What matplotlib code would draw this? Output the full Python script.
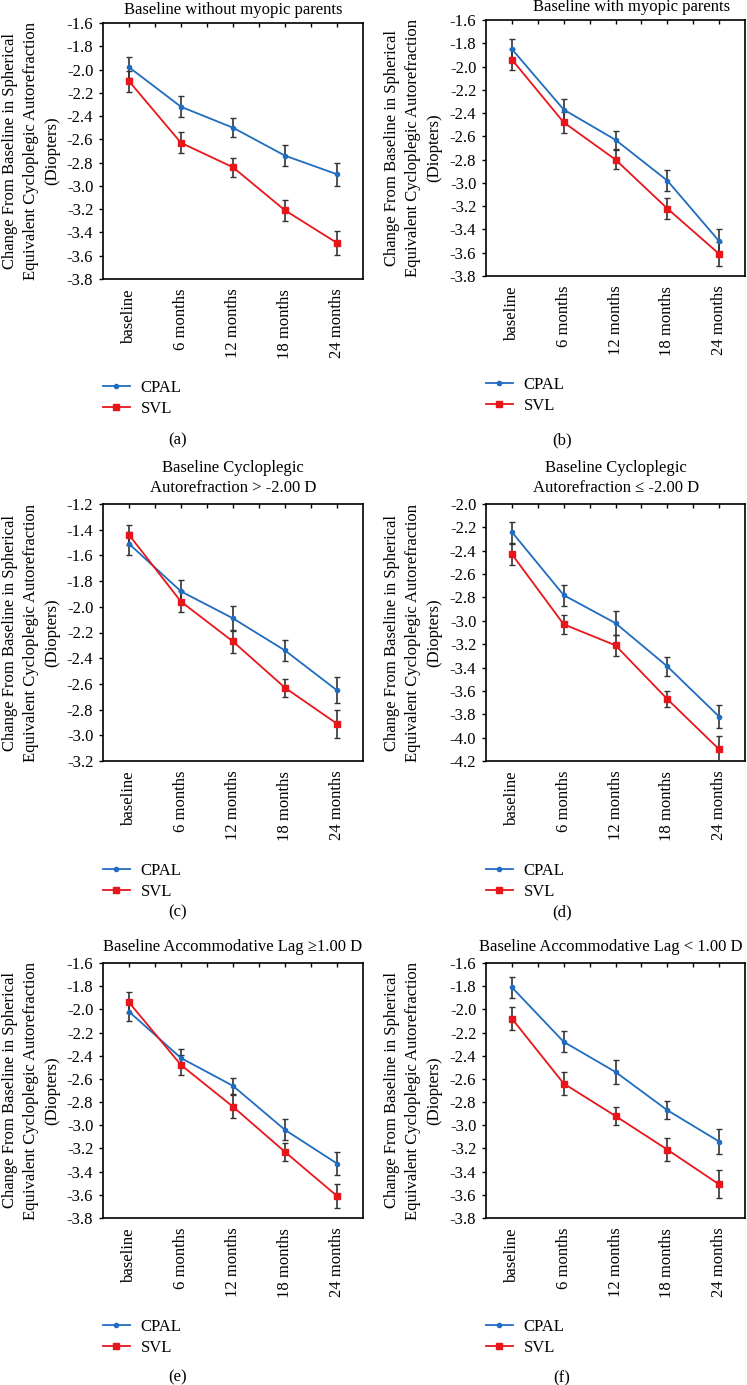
import matplotlib
matplotlib.use("Agg")
import matplotlib.pyplot as plt
from matplotlib.ticker import FormatStrFormatter, MultipleLocator

plt.rcParams['font.family'] = ['Liberation Serif', 'DejaVu Serif']
plt.rcParams['axes.unicode_minus'] = False

# Dados
visitas = ["baseline", "6 months", "12 months", "18 months", "24 months"]
grupos = ["CPAL", "SVL"]

titulos = ["Baseline without myopic parents",
           "Baseline with myopic parents",
           "Baseline Cycloplegic\nAutorefraction > -2.00 D",
           "Baseline Cycloplegic\nAutorefraction \u2264 -2.00 D",
           "Baseline Accommodative Lag \u22651.00 D",
           "Baseline Accommodative Lag < 1.00 D"]
letras = ["(a)", "(b)", "(c)", "(d)", "(e)", "(f)"]
limites_y = [(-3.8, -1.6), (-3.8, -1.6), (-3.2, -1.2),
             (-4.2, -2.0), (-3.8, -1.6), (-3.8, -1.6)]

cpal_media = [[-1.98, -2.32, -2.50, -2.74, -2.90],
              [-1.85, -2.37, -2.63, -2.98, -3.50],
              [-1.51, -1.88, -2.09, -2.34, -2.65],
              [-2.24, -2.78, -3.02, -3.39, -3.82],
              [-2.02, -2.42, -2.66, -3.04, -3.33],
              [-1.81, -2.28, -2.54, -2.87, -3.14]]
cpal_erro = [[0.09, 0.09, 0.08, 0.09, 0.10],
             [0.09, 0.09, 0.08, 0.09, 0.10],
             [0.09, 0.09, 0.10, 0.08, 0.10],
             [0.09, 0.09, 0.10, 0.08, 0.10],
             [0.08, 0.08, 0.07, 0.09, 0.10],
             [0.09, 0.09, 0.10, 0.08, 0.11]]
svl_media = [[-2.10, -2.63, -2.84, -3.21, -3.49],
             [-1.94, -2.48, -2.80, -3.22, -3.61],
             [-1.44, -1.96, -2.27, -2.63, -2.91],
             [-2.43, -3.03, -3.21, -3.67, -4.10],
             [-1.94, -2.48, -2.84, -3.23, -3.61],
             [-2.08, -2.64, -2.92, -3.21, -3.51]]
svl_erro = [[0.09, 0.09, 0.08, 0.09, 0.10],
            [0.09, 0.09, 0.08, 0.09, 0.10],
            [0.08, 0.08, 0.09, 0.07, 0.11],
            [0.09, 0.08, 0.09, 0.07, 0.11],
            [0.09, 0.09, 0.10, 0.08, 0.10],
            [0.10, 0.10, 0.08, 0.10, 0.12]]

ylabel = ("Change From Baseline in Spherical\n"
          "Equivalent Cycloplegic Autorefraction\n(Diopters)")

W, H = 747, 1385
fig = plt.figure(figsize=(W / 100, H / 100), dpi=100)

# caixas dos eixos em pixeis: (esquerda, topo, direita, fundo)
caixas = [(103, 23, 363, 279), (486, 20, 745, 276),
          (103, 504, 363, 761), (486, 504, 745, 761),
          (103, 963, 363, 1218), (486, 963, 745, 1218)]
titulo_y = [10, 7, 478, 478, 947, 947]
titulo_x = [233, 632, 233, 616, 233, 611]
letra_pos = [(178, 440), (562, 440), (178, 912), (562, 912), (178, 1377), (562, 1378)]
ylabel_x = [31, 413, 31, 413, 31, 413]

x = list(range(len(visitas)))

for i in range(6):
    l, t, r, b = caixas[i]
    ax = fig.add_axes([l / W, 1 - b / H, (r - l) / W, (b - t) / H])

    eb1 = ax.errorbar(x, cpal_media[i], yerr=cpal_erro[i], color="#1f6cc0", lw=1.3,
                      marker="o", ms=3, ecolor="#333333", elinewidth=1.2, capsize=2.5,
                      capthick=1.0, zorder=3)
    eb2 = ax.errorbar(x, svl_media[i], yerr=svl_erro[i], color="#e8161b", lw=1.3,
                      marker="s", ms=4.5, ecolor="#333333", elinewidth=1.2, capsize=2.5,
                      capthick=1.0, zorder=3)

    ax.set_xlim(-0.5, 4.5)
    ax.set_ylim(*limites_y[i])
    ax.set_xticks(x)
    ax.set_xticklabels(visitas, rotation=90, fontsize=12)
    ax.set_xticks([0.5, 1.5, 2.5, 3.5], minor=True)
    ax.tick_params(axis='x', which='both', bottom=False, top=True,
                   direction='in', length=3, width=1, pad=7)
    ax.yaxis.set_major_locator(MultipleLocator(0.2))
    ax.yaxis.set_major_formatter(FormatStrFormatter('%.1f'))
    ax.tick_params(axis='y', direction='out', length=3, width=1, pad=4, labelsize=12)
    for s in ax.spines.values():
        s.set_linewidth(1.2)

    # titulo do painel
    fig.text(titulo_x[i] / W, 1 - titulo_y[i] / H, titulos[i], ha='center',
             va='center', fontsize=12, multialignment='center', linespacing=1.25)

    # rotulo do eixo y (3 linhas)
    fig.text(ylabel_x[i] / W, 1 - ((t + b) / 2) / H, ylabel, rotation=90,
             ha='center', va='center', fontsize=12, multialignment='center',
             linespacing=1.4)

    ax.legend([eb1[0], eb2[0]], grupos, loc='upper left', bbox_to_anchor=(0, -0.395),
              frameon=False, fontsize=12, borderaxespad=0, borderpad=0,
              handlelength=1.6, handletextpad=0.65, labelspacing=0.3)

    fig.text(letra_pos[i][0] / W, 1 - letra_pos[i][1] / H, letras[i],
             ha='center', va='center', fontsize=12)

fig.savefig("out.png", dpi=100)
